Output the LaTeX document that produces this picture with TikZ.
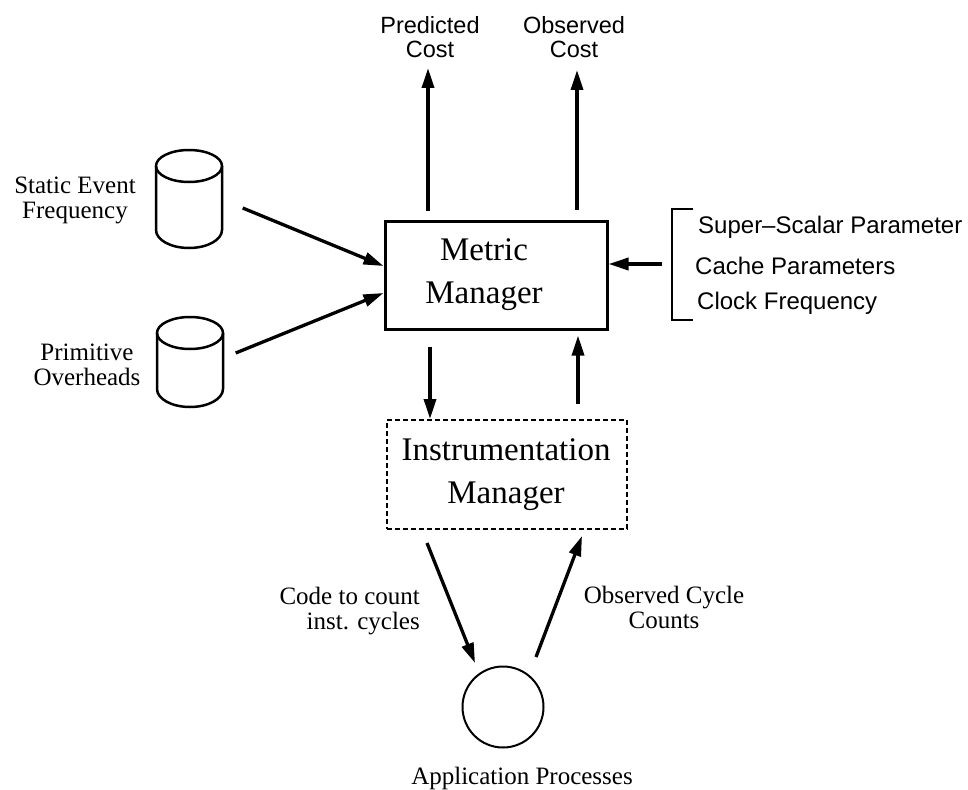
\documentclass[tikz,border=0pt]{standalone}
\usepackage{fontspec}
\setmainfont{Liberation Serif}
\setsansfont{Liberation Sans}
\usetikzlibrary{arrows.meta}
\begin{document}
\begin{tikzpicture}[x=1pt,y=-1pt,
  arr/.style={line width=3.3pt,-{Triangle[length=20pt,width=12pt]}},
  serlbl/.style={font=\fontsize{25}{25}\selectfont, align=center, inner sep=0pt},
  sanslbl/.style={font=\sffamily\fontsize{23.5}{24}\selectfont, align=center, inner sep=0pt},
  parlbl/.style={font=\sffamily\fontsize{24}{24}\selectfont, anchor=west, inner sep=0pt},
  boxtext/.style={font=\fontsize{33}{43}\selectfont, align=center, inner sep=0pt},
  cyl/.style={line width=2.5pt},
  ghost/.style={inner sep=0pt, minimum width=67pt}
]
\useasboundingbox (0,0) rectangle (968,789);

% --- central boxes ---
\node[draw, line width=3pt, minimum width=222pt, minimum height=108pt] (mm) at (496,275) {};
\node[boxtext] (mmtext) at (484,275) {Metric\\Manager};
\node[draw, line width=2pt, dash pattern=on 5pt off 3pt, minimum width=240pt, minimum height=109pt] (im) at (507,474.5) {};
\node[boxtext] (imtext) at (506,475) {Instrumentation\\Manager};

% --- data stores (cylinders) ---
\node[ghost, minimum height=98pt] (sef) at (189,199) {};
\draw[cyl] (189,166) ellipse [x radius=33pt, y radius=16pt];
\draw[cyl] (156,166) -- (156,230) arc[start angle=180, end angle=360, x radius=33pt, y radius=18pt] -- (222,166);

\node[ghost, minimum height=90pt] (po) at (190,362) {};
\draw[cyl] (190,333) ellipse [x radius=33pt, y radius=16pt];
\draw[cyl] (157,333) -- (157,389) arc[start angle=180, end angle=360, x radius=33pt, y radius=18pt] -- (223,333);

\node[serlbl] (seflbl) at (75,200) {Static Event\\Frequency};
\node[serlbl] (polbl) at (87,365) {Primitive\\Overheads};

\draw[arr] ([xshift=20pt,yshift=-9pt]sef.east) -- ([yshift=9pt]mm.west);
\draw[arr] ([xshift=12pt,yshift=9pt]po.east) -- ([yshift=-18pt]mm.west);

% --- outputs ---
\node[sanslbl] (pc) at (430,37) {Predicted\\Cost};
\node[sanslbl] (oc) at (574,37) {Observed\\Cost};
\coordinate (pctip) at (428,68);
\coordinate (octip) at (577,70);
\draw[arr] ([xshift=-68pt,yshift=9pt]mm.north) -- (pctip);
\draw[arr] ([xshift=81pt,yshift=10pt]mm.north) -- (octip);

% --- machine parameters ---
\coordinate (brk) at (662,264);
\draw[line width=2pt] (693,209) -- (672,209) -- (672,320) -- (693,320);
\node[parlbl] (ssp) at (698,227) {Super‒Scalar Parameter};
\node[parlbl] (cp) at (695,266) {Cache Parameters};
\node[parlbl] (cf) at (697,303) {Clock Frequency};
\draw[arr] (brk) -- ([yshift=11pt]mm.east);

% --- metric <-> instrumentation ---
\draw[arr] ([xshift=-66pt,yshift=-16pt]mm.south) -- ([xshift=-77pt]im.north);
\draw[arr] ([xshift=71pt,yshift=15pt]im.north) -- ([xshift=82pt,yshift=-5pt]mm.south);

% --- application processes ---
\node[draw, circle, line width=2pt, minimum size=81pt, inner sep=0pt] (ap) at (503,707) {};
\node[serlbl] (aplbl) at (522,778) {Application Processes};
\draw[arr] ([xshift=-80pt,yshift=-13pt]im.south) -- ([xshift=-28pt,yshift=44pt]ap.center);
\draw[arr] ([xshift=33pt,yshift=50pt]ap.center) -- ([xshift=75pt,yshift=-6pt]im.south);
\node[serlbl, align=right, anchor=east] (cclbl) at (420,611) {Code to count\\inst. cycles};
\node[serlbl] (occlbl) at (664,607) {Observed Cycle\\Counts};
\end{tikzpicture}
\end{document}
